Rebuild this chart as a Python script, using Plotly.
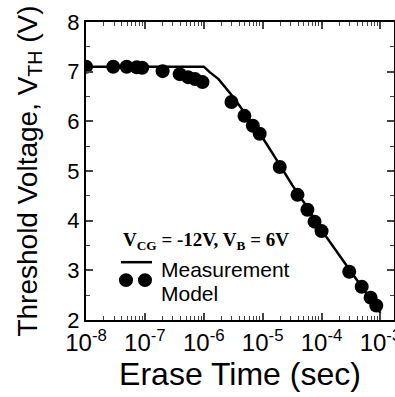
import numpy as np
import plotly.graph_objects as go

# Model (circles): erase time (s), threshold voltage (V)
model_t = [1e-8, 2.9e-8, 4.9e-8, 7.3e-8, 9e-8, 2.0e-7, 3.9e-7, 5.4e-7, 7.1e-7, 9.5e-7,
           2.95e-6, 4.9e-6, 6.8e-6, 8.9e-6, 1.95e-5, 3.9e-5, 5.75e-5, 7.6e-5, 1.0e-4,
           2.95e-4, 4.8e-4, 6.8e-4, 8.5e-4]
model_v = [7.1, 7.1, 7.1, 7.09, 7.08, 7.01, 6.95, 6.89, 6.85, 6.79,
           6.39, 6.11, 5.91, 5.75, 5.08, 4.52, 4.22, 3.98, 3.79,
           2.97, 2.67, 2.45, 2.29]

# Measurement (line)
meas_t = [1e-8, 1.0e-6, 1.26e-6, 1.78e-6, 3.16e-6, 5.62e-6, 1e-5, 1.78e-5, 3.16e-5,
          5.62e-5, 1e-4, 3.16e-4, 1e-3]
meas_v = [7.1, 7.1, 6.99, 6.85, 6.49, 6.09, 5.67, 5.2, 4.72, 4.28, 3.81, 2.97, 2.14]

x_tickvals = [1e-8, 1e-7, 1e-6, 1e-5, 1e-4, 1e-3]
x_ticktext = ["10<sup>-8</sup>", "10<sup>-7</sup>", "10<sup>-6</sup>",
              "10<sup>-5</sup>", "10<sup>-4</sup>", "10<sup>-3</sup>"]
y_tickvals = [2, 3, 4, 5, 6, 7, 8]

fig = go.Figure()
fig.add_trace(go.Scatter(x=meas_t, y=meas_v, mode="lines",
                         line=dict(color="black", width=2.5), showlegend=False))
fig.add_trace(go.Scatter(x=model_t, y=model_v, mode="markers",
                         marker=dict(color="black", size=14), showlegend=False))

fig.update_layout(
    width=395, height=397,
    margin=dict(l=86, r=1, t=22, b=77),
    paper_bgcolor="white", plot_bgcolor="white",
    font=dict(family="Liberation Sans, Arial", color="black"),
)
fig.update_xaxes(
    type="log", range=[-8, -2.77], automargin=False,
    tickvals=x_tickvals, ticktext=x_ticktext, ticklabeloverflow="allow",
    tickfont=dict(size=24), ticks="inside", ticklen=7, tickwidth=1.5,
    showline=True, linecolor="black", linewidth=2, mirror="ticks",
    showgrid=False, zeroline=False,
    minor=dict(ticks="inside", ticklen=4, tickwidth=1, tickvals=[
        m * 10.0 ** e for e in range(-8, -2) for m in range(2, 10)], showgrid=False),
    title=dict(text="Erase Time (sec)", font=dict(size=32), standoff=4),
)
fig.update_yaxes(
    range=[2, 8], tickvals=y_tickvals, ticklabeloverflow="allow", automargin=False,
    tickfont=dict(size=22), ticks="inside", ticklen=7, tickwidth=1.5,
    showline=True, linecolor="black", linewidth=2, mirror="ticks",
    showgrid=False, zeroline=False,
    minor=dict(ticks="inside", ticklen=4, tickwidth=1, dtick=0.5, showgrid=False),
    title=dict(text="Threshold Voltage, V<sub>TH</sub> (V)", font=dict(size=28), standoff=22),
)

# legend block
fig.add_annotation(xref="paper", yref="paper", x=(121 - 86) / 308, y=(321 - 242) / 299,
                   xanchor="left", yanchor="middle", showarrow=False,
                   text="<b>V<sub>CG</sub> = -12V, V<sub>B</sub> = 6V</b>",
                   font=dict(family="Liberation Serif, Times New Roman", size=19))
fig.add_shape(type="line", xref="paper", yref="paper",
              x0=(121 - 86) / 308, x1=(152 - 86) / 308,
              y0=(321 - 263) / 299, y1=(321 - 263) / 299,
              line=dict(color="black", width=2.5))
for cx in (126, 145):
    fig.add_shape(type="circle", xref="paper", yref="paper",
                  x0=(cx - 7 - 86) / 308, x1=(cx + 7 - 86) / 308,
                  y0=(321 - 281 - 7) / 299, y1=(321 - 281 + 7) / 299,
                  fillcolor="black", line=dict(color="black", width=0))
fig.add_annotation(xref="paper", yref="paper", x=(159 - 86) / 308, y=(321 - 270) / 299,
                   xanchor="left", yanchor="middle", showarrow=False,
                   text="Measurement", font=dict(size=21))
fig.add_annotation(xref="paper", yref="paper", x=(159 - 86) / 308, y=(321 - 294) / 299,
                   xanchor="left", yanchor="middle", showarrow=False,
                   text="Model", font=dict(size=21))

fig.write_html("out.html")
